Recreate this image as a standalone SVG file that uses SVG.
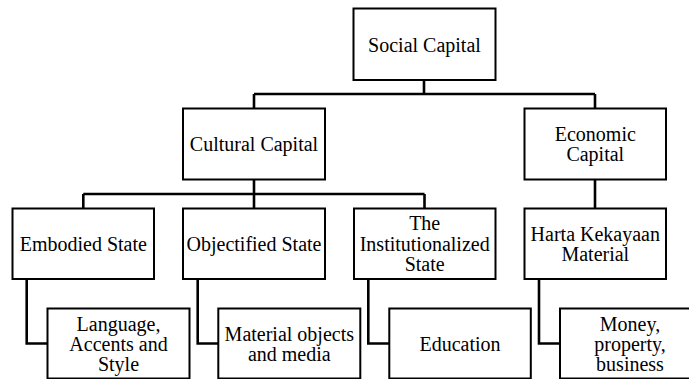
<svg xmlns="http://www.w3.org/2000/svg" width="689" height="379" viewBox="0 0 689 379">
<rect width="689" height="379" fill="#fff"/>
<g id="connectors" fill="none" stroke="#000" stroke-width="2.6">
<path d="M424,80 V94 M254,94 H595 M254,94 V108 M595,94 V108" fill="none" stroke="#000" stroke-width="2.6"/>
<path d="M254,179 V208 M83.3,194 H424.5 M83.3,194 V208 M424.5,194 V208 M595,179 V208" fill="none" stroke="#000" stroke-width="2.6"/>
<path d="M26.7,279 V343.5 H47.5" fill="none" stroke="#000" stroke-width="2.6"/>
<path d="M197.7,279 V343.5 H218.3" fill="none" stroke="#000" stroke-width="2.6"/>
<path d="M368.3,279 V343.5 H389.3" fill="none" stroke="#000" stroke-width="2.6"/>
<path d="M539,279 V343.5 H560" fill="none" stroke="#000" stroke-width="2.6"/>
</g>
<g id="social-capital">
<rect x="353.5" y="8.5" width="142" height="71.5" fill="#fff" stroke="#000" stroke-width="2"/>
<text x="424.5" y="51.5" font-family="Liberation Serif" font-size="20" text-anchor="middle">Social Capital</text>
</g>
<g id="cultural-capital">
<rect x="183" y="108.5" width="142" height="71" fill="#fff" stroke="#000" stroke-width="2"/>
<text x="254" y="151" font-family="Liberation Serif" font-size="20" text-anchor="middle">Cultural Capital</text>
</g>
<g id="economic-capital">
<rect x="524.5" y="108.5" width="141.5" height="71" fill="#fff" stroke="#000" stroke-width="2"/>
<text x="595.3" y="140.5" font-family="Liberation Serif" font-size="20" text-anchor="middle">Economic</text>
<text x="595.3" y="161" font-family="Liberation Serif" font-size="20" text-anchor="middle">Capital</text>
</g>
<g id="embodied-state">
<rect x="12.5" y="208.5" width="141.5" height="70.5" fill="#fff" stroke="#000" stroke-width="2"/>
<text x="83.3" y="250.5" font-family="Liberation Serif" font-size="20" text-anchor="middle">Embodied State</text>
</g>
<g id="objectified-state">
<rect x="183" y="208.5" width="142" height="70.5" fill="#fff" stroke="#000" stroke-width="2"/>
<text x="254" y="250.5" font-family="Liberation Serif" font-size="20" text-anchor="middle">Objectified State</text>
</g>
<g id="institutionalized-state">
<rect x="354" y="208.5" width="141.5" height="70.5" fill="#fff" stroke="#000" stroke-width="2"/>
<text x="424.7" y="230" font-family="Liberation Serif" font-size="20" text-anchor="middle">The</text>
<text x="424.7" y="250.5" font-family="Liberation Serif" font-size="20" text-anchor="middle">Institutionalized</text>
<text x="424.7" y="271" font-family="Liberation Serif" font-size="20" text-anchor="middle">State</text>
</g>
<g id="harta-kekayaan">
<rect x="524.5" y="208.5" width="141.5" height="70.5" fill="#fff" stroke="#000" stroke-width="2"/>
<text x="595.3" y="240.5" font-family="Liberation Serif" font-size="20" text-anchor="middle">Harta Kekayaan</text>
<text x="595.3" y="261" font-family="Liberation Serif" font-size="20" text-anchor="middle">Material</text>
</g>
<g id="language">
<rect x="47.5" y="308.5" width="142" height="70" fill="#fff" stroke="#000" stroke-width="2"/>
<text x="118.5" y="330.5" font-family="Liberation Serif" font-size="20" text-anchor="middle">Language,</text>
<text x="118.5" y="350.5" font-family="Liberation Serif" font-size="20" text-anchor="middle">Accents and</text>
<text x="118.5" y="370.5" font-family="Liberation Serif" font-size="20" text-anchor="middle">Style</text>
</g>
<g id="material-objects">
<rect x="218.3" y="308.5" width="142" height="70" fill="#fff" stroke="#000" stroke-width="2"/>
<text x="289.3" y="340.5" font-family="Liberation Serif" font-size="20" text-anchor="middle">Material objects</text>
<text x="289.3" y="360.5" font-family="Liberation Serif" font-size="20" text-anchor="middle">and media</text>
</g>
<g id="education">
<rect x="389.3" y="308.5" width="141.5" height="70" fill="#fff" stroke="#000" stroke-width="2"/>
<text x="460" y="350.5" font-family="Liberation Serif" font-size="20" text-anchor="middle">Education</text>
</g>
<g id="money">
<rect x="560" y="308.5" width="142" height="70" fill="#fff" stroke="#000" stroke-width="2"/>
<text x="630" y="330.5" font-family="Liberation Serif" font-size="20" text-anchor="middle">Money,</text>
<text x="630" y="350.5" font-family="Liberation Serif" font-size="20" text-anchor="middle">property,</text>
<text x="630" y="370.5" font-family="Liberation Serif" font-size="20" text-anchor="middle">business</text>
</g>
</svg>
